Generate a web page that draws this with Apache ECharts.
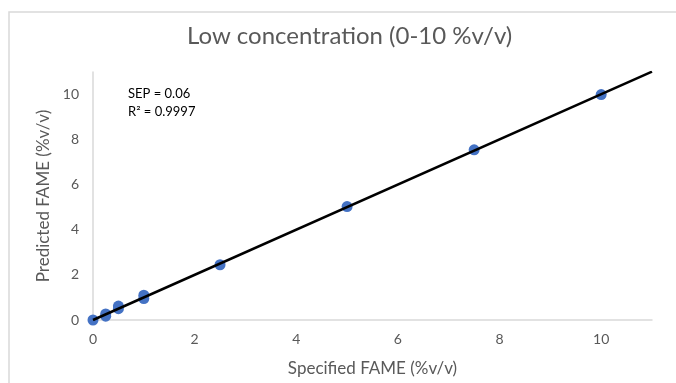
<!DOCTYPE html>
<html><head><meta charset="utf-8">
<script src="https://cdn.jsdelivr.net/npm/echarts@6/dist/echarts.min.js"></script>
<style>html,body{margin:0;padding:0;background:#fff}#c{width:676px;height:383px}</style>
</head><body><div id="c"></div>
<script>
const titleText = 'Low concentration (0-10 %v/v)';
const xName = 'Specified FAME (%v/v)';
const yName = 'Predicted FAME (%v/v)';
const specified = [0, 0.25, 0.25, 0.5, 0.5, 1, 1, 2.5, 5, 7.5, 10];
const predicted = [0, 0.17, 0.27, 0.5, 0.62, 0.95, 1.1, 2.45, 5.03, 7.55, 10.0];
const trendX = [0, 11];
const trendY = [0, 11.02];
const annotations = ['SEP = 0.06', 'R² = 0.9997'];

const font = 'Lato, "Open Sans", sans-serif';
const chart = echarts.init(document.getElementById('c'));
chart.setOption({
  animation: false,
  backgroundColor: '#fff',
  title: { text: titleText, left: 182, top: 19,
    textStyle: { fontFamily: font, fontSize: 24, fontWeight: 'normal', color: '#595959' } },
  grid: { left: 93, right: 24, top: 72, bottom: 63 },
  xAxis: { type: 'value', min: 0, max: 11, interval: 2,
    name: xName, nameLocation: 'middle', nameGap: 40,
    nameTextStyle: { fontFamily: font, fontSize: 17, color: '#595959' },
    axisLine: { lineStyle: { color: '#d9d9d9', width: 1.5 } },
    axisTick: { show: false }, splitLine: { show: false },
    axisLabel: { fontFamily: font, fontSize: 14, color: '#595959', margin: 12, showMaxLabel: false } },
  yAxis: { type: 'value', min: 0, max: 11, interval: 2,
    name: yName, nameLocation: 'middle', nameGap: 40,
    nameTextStyle: { fontFamily: font, fontSize: 17, color: '#595959' },
    axisLine: { show: true, lineStyle: { color: '#d9d9d9', width: 1.5 } },
    axisTick: { show: false }, splitLine: { show: false },
    axisLabel: { fontFamily: font, fontSize: 14, color: '#595959', margin: 14, showMaxLabel: false } },
  graphic: [
    { type: 'rect', shape: { x: 9, y: 12, width: 720, height: 420 }, silent: true,
      style: { fill: 'none', stroke: '#d9d9d9', lineWidth: 1.5 }, z: -10 },
    { type: 'text', left: 128, top: 87, style: { text: annotations[0], font: '13px ' + font, fill: '#000' } },
    { type: 'text', left: 128, top: 105, style: { text: annotations[1], font: '13px ' + font, fill: '#000' } }
  ],
  series: [
    { type: 'scatter', data: specified.map((x, i) => [x, predicted[i]]),
      symbolSize: 11, itemStyle: { color: '#4472C4', opacity: 1 }, z: 2 },
    { type: 'line', data: trendX.map((x, i) => [x, trendY[i]]), symbol: 'none',
      lineStyle: { color: '#000', width: 2.5 }, z: 3 }
  ]
});
</script></body></html>
